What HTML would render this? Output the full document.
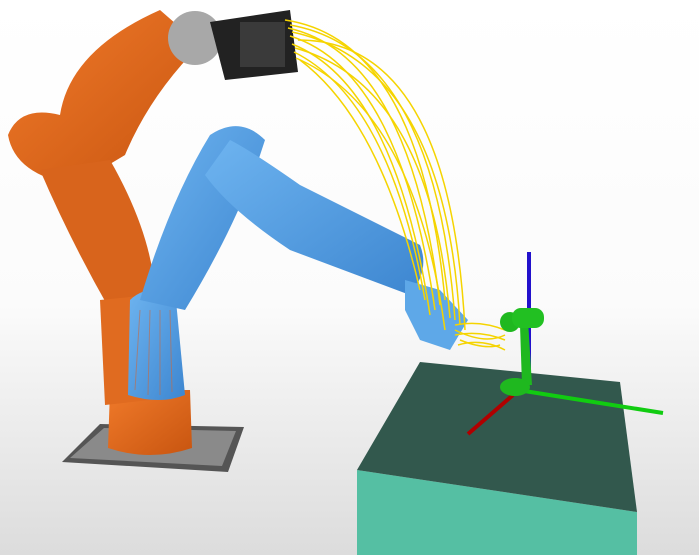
<!DOCTYPE html>
<html><head><meta charset="utf-8"><style>
html,body{margin:0;padding:0;width:699px;height:555px;overflow:hidden;background:#fff}
svg{display:block}
</style></head><body>
<svg width="699" height="555" viewBox="0 0 699 555">
<defs>
<linearGradient id="bg" x1="0" y1="0" x2="0" y2="1">
<stop offset="0" stop-color="#ffffff"/><stop offset="0.55" stop-color="#fbfbfb"/><stop offset="1" stop-color="#dcdcdc"/>
</linearGradient>
<linearGradient id="or" x1="0" y1="0" x2="1" y2="1">
<stop offset="0" stop-color="#f07a2a"/><stop offset="1" stop-color="#c85510"/>
</linearGradient>
<linearGradient id="bl" x1="0" y1="0" x2="1" y2="1">
<stop offset="0" stop-color="#6eb4f0"/><stop offset="1" stop-color="#3d86d0"/>
</linearGradient>
</defs>
<rect width="699" height="555" fill="url(#bg)"/>

<g>
<polygon points="62,462 100,424 244,427 228,472" fill="#555"/>
<polygon points="70,458 104,428 236,431 222,466" fill="#8a8a8a"/>
</g>

<g>
<path d="M110,390 L190,390 L192,448 Q150,462 108,448 Z" fill="url(#or)"/>
<path d="M60,115 Q70,50 160,10 L200,45 Q150,95 125,155 L75,185 Q15,175 8,135 Q20,105 60,115 Z" fill="url(#or)"/>
<path d="M40,170 L110,160 Q150,230 155,290 L110,310 Q70,240 40,170 Z" fill="#d8641c"/>
<path d="M100,300 L150,295 L150,400 L105,405 Z" fill="#e06b20"/>
<circle cx="195" cy="38" r="27" fill="#a8a8a8"/>
<polygon points="210,22 290,10 298,72 225,80" fill="#222"/>
<rect x="240" y="22" width="45" height="45" fill="#3a3a3a"/>
</g>

<g>
<path d="M130,300 Q145,285 175,290 L185,395 Q160,405 128,395 Z" fill="url(#bl)"/>
<path d="M140,300 Q170,200 210,135 Q240,115 265,140 Q240,220 185,310 Z" fill="url(#bl)"/>
<path d="M230,140 Q250,150 300,185 L420,245 Q430,270 410,295 L290,250 Q230,210 205,175 Z" fill="url(#bl)"/>
<path d="M405,280 L440,290 L468,320 L450,350 L420,340 L405,310 Z" fill="#5ea8e8"/>
<g stroke="#c86a40" stroke-width="1" opacity="0.6">
<line x1="140" y1="310" x2="135" y2="390"/><line x1="150" y1="310" x2="148" y2="395"/><line x1="160" y1="310" x2="160" y2="395"/><line x1="170" y1="310" x2="172" y2="392"/>
</g>
</g>

<g fill="none" stroke="#f5d400" stroke-width="1.5">
<path d="M285,20 Q420,40 445,300"/><path d="M288,28 Q410,55 440,305"/><path d="M290,36 Q400,70 435,310"/>
<path d="M292,44 Q395,85 430,315"/><path d="M294,52 Q390,100 425,300"/><path d="M290,25 Q435,50 455,320"/>
<path d="M292,32 Q445,65 460,325"/><path d="M295,48 Q430,85 450,318"/><path d="M296,58 Q415,110 445,330"/>
<path d="M298,40 Q450,40 465,330"/><path d="M300,60 Q380,120 420,290"/>
<path d="M455,325 Q480,320 505,330"/><path d="M455,335 Q480,330 505,340"/><path d="M458,345 Q482,338 505,350"/>
<path d="M455,330 Q485,345 505,335"/><path d="M460,340 Q485,350 500,345"/>
</g>

<g>
<polygon points="357,470 637,512 637,555 357,555" fill="#55bfa3"/>
<polygon points="420,362 620,382 637,512 357,470" fill="#32584d"/>
</g>

<g>
<line x1="518" y1="390" x2="663" y2="413" stroke="#11cc11" stroke-width="4"/>
<line x1="513" y1="395" x2="468" y2="434" stroke="#b00000" stroke-width="4"/>
<line x1="529" y1="252" x2="529" y2="380" stroke="#2211cc" stroke-width="4"/>
<path d="M520,325 L528,320 L532,385 L522,385 Z" fill="#1fb81f"/>
<ellipse cx="515" cy="387" rx="15" ry="9" fill="#1fb81f"/>
<circle cx="510" cy="322" r="10" fill="#1fb81f"/>
<rect x="512" y="308" width="32" height="20" rx="9" fill="#22c022"/>
</g>
</svg>
</body></html>
